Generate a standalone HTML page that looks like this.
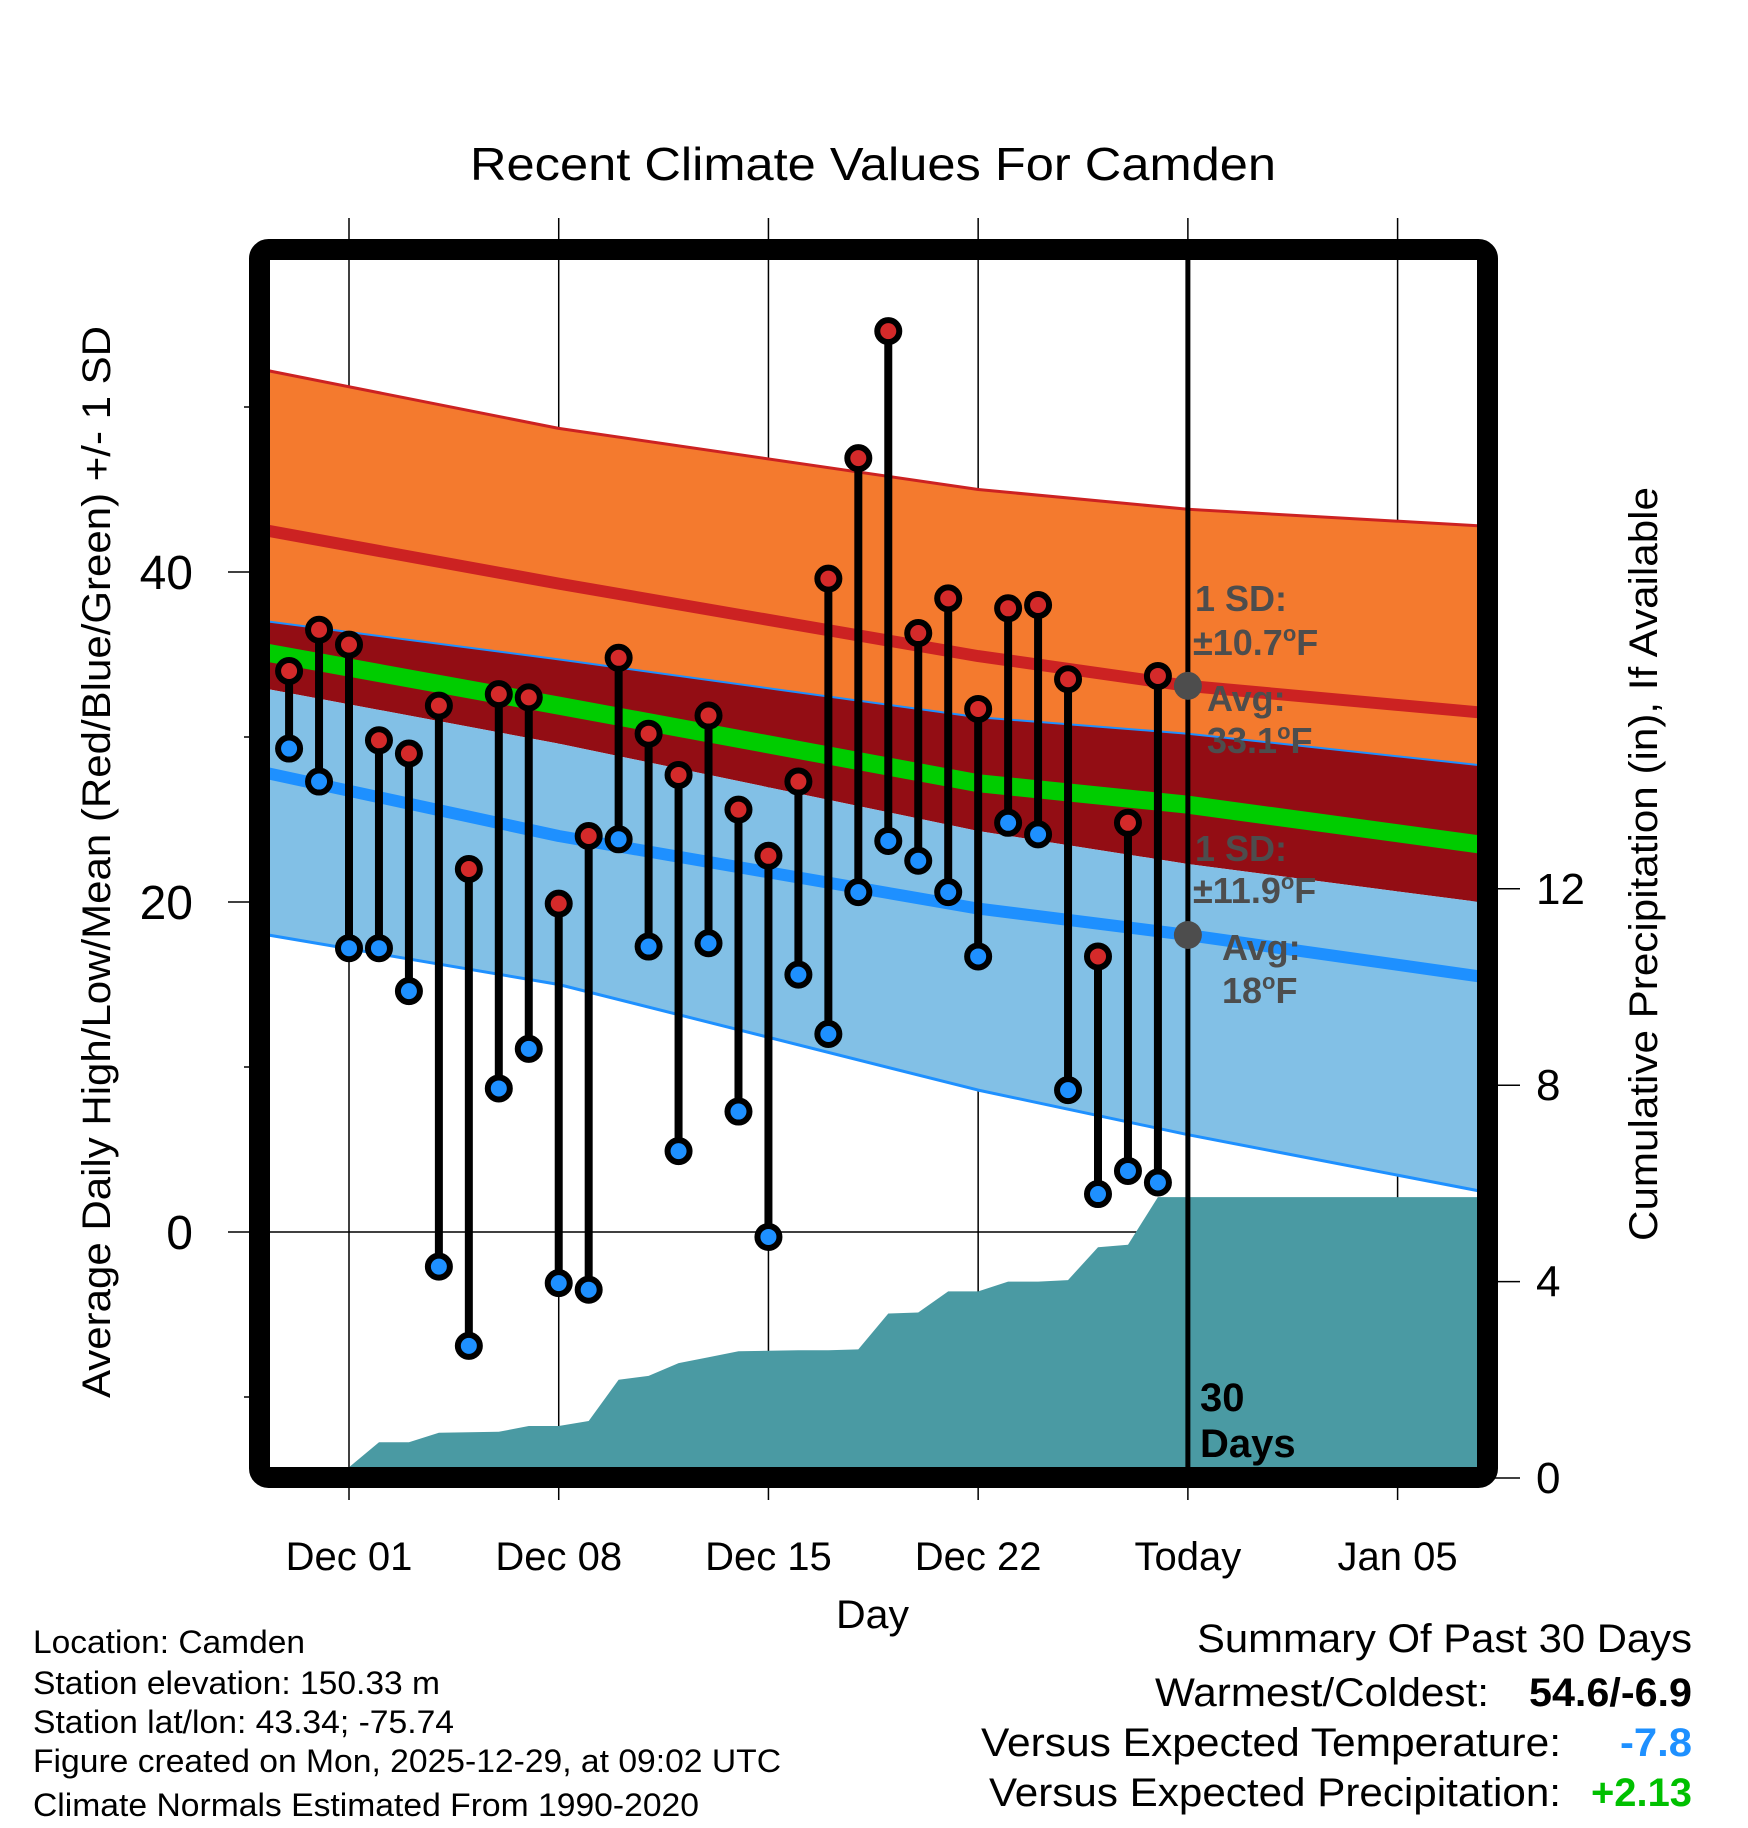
<!DOCTYPE html>
<html><head><meta charset="utf-8"><style>
html,body{margin:0;padding:0;background:#fff}
svg{display:block;font-family:"Liberation Sans",sans-serif}
</style></head><body>
<svg id="chart" width="1748" height="1828" viewBox="0 0 1748 1828" xmlns="http://www.w3.org/2000/svg">
<defs><clipPath id="plotclip"><rect x="270" y="260" width="1208" height="1208"/></clipPath></defs>
<text x="470" y="180" font-size="46" textLength="806" lengthAdjust="spacingAndGlyphs">Recent Climate Values For Camden</text>
<g id="grid"></g>
<g id="plot" clip-path="url(#plotclip)"></g>
<g id="overlay"></g>
<rect x="259.5" y="249.5" width="1228" height="1228" rx="9" fill="none" stroke="#000" stroke-width="21"/>
<g id="marks"></g>
<g id="axes"></g>
<text x="836" y="1628" font-size="40" textLength="73" lengthAdjust="spacingAndGlyphs">Day</text>
<text transform="translate(110,1398) rotate(-90)" font-size="40" textLength="1072" lengthAdjust="spacingAndGlyphs">Average Daily High/Low/Mean (Red/Blue/Green) +/- 1 SD</text>
<text transform="translate(1657,1241) rotate(-90)" font-size="40" textLength="754" lengthAdjust="spacingAndGlyphs">Cumulative Precipitation (in), If Available</text>
<g font-size="32">
<text x="33" y="1653" textLength="272" lengthAdjust="spacingAndGlyphs">Location: Camden</text>
<text x="33" y="1694" textLength="407" lengthAdjust="spacingAndGlyphs">Station elevation: 150.33 m</text>
<text x="33" y="1733" textLength="421" lengthAdjust="spacingAndGlyphs">Station lat/lon: 43.34; -75.74</text>
<text x="33" y="1772" textLength="748" lengthAdjust="spacingAndGlyphs">Figure created on Mon, 2025-12-29, at 09:02 UTC</text>
<text x="33" y="1816" textLength="666" lengthAdjust="spacingAndGlyphs">Climate Normals Estimated From 1990-2020</text>
</g>
<g font-size="40">
<text x="1197" y="1652" textLength="495" lengthAdjust="spacingAndGlyphs">Summary Of Past 30 Days</text>
<text x="1155" y="1706" textLength="334" lengthAdjust="spacingAndGlyphs">Warmest/Coldest:</text>
<text x="1529" y="1706" font-weight="bold" textLength="163" lengthAdjust="spacingAndGlyphs">54.6/-6.9</text>
<text x="981" y="1756" textLength="580" lengthAdjust="spacingAndGlyphs">Versus Expected Temperature:</text>
<text x="1620" y="1756" font-weight="bold" fill="#1e90ff" textLength="72" lengthAdjust="spacingAndGlyphs">-7.8</text>
<text x="989" y="1806" textLength="572" lengthAdjust="spacingAndGlyphs">Versus Expected Precipitation:</text>
<text x="1591" y="1806" font-weight="bold" fill="#00c000" textLength="101" lengthAdjust="spacingAndGlyphs">+2.13</text>
</g>
</svg>
<script>
// data
const days = [-2,-1,0,1,2,3,4,5,6,7,8,9,10,11,12,13,14,15,16,17,18,19,20,21,22,23,24,25,26,27];
const highs = [34.0,36.5,35.6,29.8,29.0,31.9,22.0,32.6,32.4,19.9,24.0,34.8,30.2,27.7,31.3,25.6,22.8,27.3,39.6,46.9,54.6,36.3,38.4,31.7,37.8,38.0,33.5,16.7,24.8,33.7];
const lows = [29.3,27.3,17.2,17.2,14.6,-2.1,-6.9,8.7,11.1,-3.1,-3.5,23.8,17.3,4.9,17.5,7.3,-0.3,15.6,12.0,20.6,23.7,22.5,20.6,16.7,24.8,24.1,8.6,2.3,3.7,3.0];
const precip = [0.2,0.2,0.22,0.73,0.73,0.92,0.93,0.94,1.06,1.06,1.16,2.0,2.08,2.34,2.46,2.58,2.59,2.6,2.6,2.62,3.35,3.37,3.8,3.8,4.0,4.0,4.03,4.7,4.75,5.72];
const normDays = [-2.7,7,21,28,37.7];
const highUpper = [52.2,48.7,45.0,43.8,42.8];
const highMean = [42.5,39.3,34.9,33.1,31.5];
const highLower = [37.0,34.7,31.2,30.2,28.3];
const meanMean = [35.1,31.9,27.2,25.9,23.5];
const lowUpper = [32.9,29.6,24.3,22.3,20.0];
const lowMean = [27.8,24.0,19.6,18.0,15.5];
const lowLower = [18.0,15.0,8.6,5.9,2.5];
const xTickDays = [0,7,14,21,28,35];
const xTickLabels = ["Dec 01","Dec 08","Dec 15","Dec 22","Today","Jan 05"];
const yTicks = [0,20,40];
const yMinor = [-10,10,30,50];
const y2Ticks = [0,4,8,12];
const todayDay = 28;

const X = d => 349 + d*29.96;
const Y = t => 1232 - t*16.5;
const Y2 = p => 1478 - p*49.1;
const NS = "http://www.w3.org/2000/svg";
function mk(tag, attrs, parent){const e=document.createElementNS(NS,tag);for(const k in attrs)e.setAttribute(k,attrs[k]);parent.appendChild(e);return e;}
const grid=document.getElementById('grid'), plot=document.getElementById('plot'), overlay=document.getElementById('overlay'), marks=document.getElementById('marks'), axes=document.getElementById('axes');

function pts(arr){return normDays.map((d,i)=>X(d).toFixed(1)+','+Y(arr[i]).toFixed(1));}
function band(top,bot,fill){
  const p = pts(top).concat(pts(bot).reverse()).join(' ');
  const e=mk('polygon',{points:p,fill:fill},plot);
  
}
function line(arr,color,w){
  const e=mk('polyline',{points:pts(arr).join(' '),fill:'none',stroke:color,'stroke-width':w,'stroke-linejoin':'round'},plot);
  
}
band(highUpper,highLower,'#f47a2e');

band(highLower,lowUpper,'#930d14');

band(lowUpper,lowLower,'#82c0e6');

line(highUpper,'#cc2222',3);

line(highMean,'#cc2222',12);

line(highLower,'#1e90ff',2);

line(meanMean,'#00cc00',18);

line(lowMean,'#1e90ff',12);

line(lowLower,'#1e90ff',3);


// gridlines
xTickDays.forEach((d,i)=>{
  const g=mk('line',{x1:X(d),x2:X(d),y1:218,y2:1500,stroke:'#000','stroke-width':1.5},grid);
  
  
  const t=mk('text',{x:X(d),y:1570,'font-size':40,'text-anchor':'middle'},axes);
  
  
  t.textContent=xTickLabels[i];
});
yTicks.forEach(v=>{
  const g=mk('line',{x1:228,x2:1478,y1:Y(v),y2:Y(v),stroke:'#000','stroke-width':1.5},grid);
  
  
  const t=mk('text',{x:193,y:Y(v)+17,'font-size':48,'text-anchor':'end'},axes);
  
  
  t.textContent=v;
});
yMinor.forEach(v=>{
  const g=mk('line',{x1:244,x2:260,y1:Y(v),y2:Y(v),stroke:'#000','stroke-width':1.5},grid);
  
  
});
y2Ticks.forEach(v=>{
  const g=mk('line',{x1:1490,x2:1520,y1:Y2(v),y2:Y2(v),stroke:'#000','stroke-width':1.5},axes);
  
  
  const t=mk('text',{x:1536,y:Y2(v)+15,'font-size':44},axes);
  
  
  t.textContent=v;
});

// precipitation area
let pp=[X(days[0])+','+1480];
days.forEach((d,i)=>pp.push(X(d).toFixed(1)+','+Y2(precip[i]).toFixed(1)));
pp.push('1490,'+Y2(precip[precip.length-1]).toFixed(1));
pp.push('1490,1480');
const pa=mk('polygon',{points:pp.join(' '),fill:'#4a9aa3','clip-path':'url(#plotclip)'},overlay);



// today line
const tl=mk('line',{x1:X(todayDay),x2:X(todayDay),y1:255,y2:1475,stroke:'#000','stroke-width':5},overlay);


const d1=mk('circle',{cx:X(todayDay),cy:Y(highMean[3]),r:14,fill:'#4d4d4d'},overlay);


const d2=mk('circle',{cx:X(todayDay),cy:Y(lowMean[3]),r:14,fill:'#4d4d4d'},overlay);



// annotations
function ann(x,y,html,col,size){
  const t=mk('text',{x:x,y:y,'font-size':size||36,'font-weight':'bold',fill:col||'#4d4d4d'},overlay);
  
  t.innerHTML=html;
}
ann(1195,611,'1 SD:');

ann(1193,655,'±10.7<tspan dy="-14" font-size="22">o</tspan><tspan dy="14">F</tspan>');

ann(1207,711,'Avg:');

ann(1207,753,'33.1<tspan dy="-14" font-size="22">o</tspan><tspan dy="14">F</tspan>');

ann(1195,861,'1 SD:');

ann(1193,903,'±11.9<tspan dy="-14" font-size="22">o</tspan><tspan dy="14">F</tspan>');

ann(1222,960,'Avg:');

ann(1222,1003,'18<tspan dy="-14" font-size="22">o</tspan><tspan dy="14">F</tspan>');

ann(1200,1411,'30','#000',40);

ann(1200,1457,'Days','#000',40);


// bars and points
days.forEach((d,i)=>{
  const b=mk('line',{x1:X(d),x2:X(d),y1:Y(highs[i]),y2:Y(lows[i]),stroke:'#000','stroke-width':8},marks);
  
  
});
days.forEach((d,i)=>{
  const h=mk('circle',{cx:X(d),cy:Y(highs[i]),r:11,fill:'#d42a2a',stroke:'#000','stroke-width':6},marks);
  
  
  const l=mk('circle',{cx:X(d),cy:Y(lows[i]),r:11,fill:'#1e90ff',stroke:'#000','stroke-width':6},marks);
  
  
});
</script>
</body></html>
